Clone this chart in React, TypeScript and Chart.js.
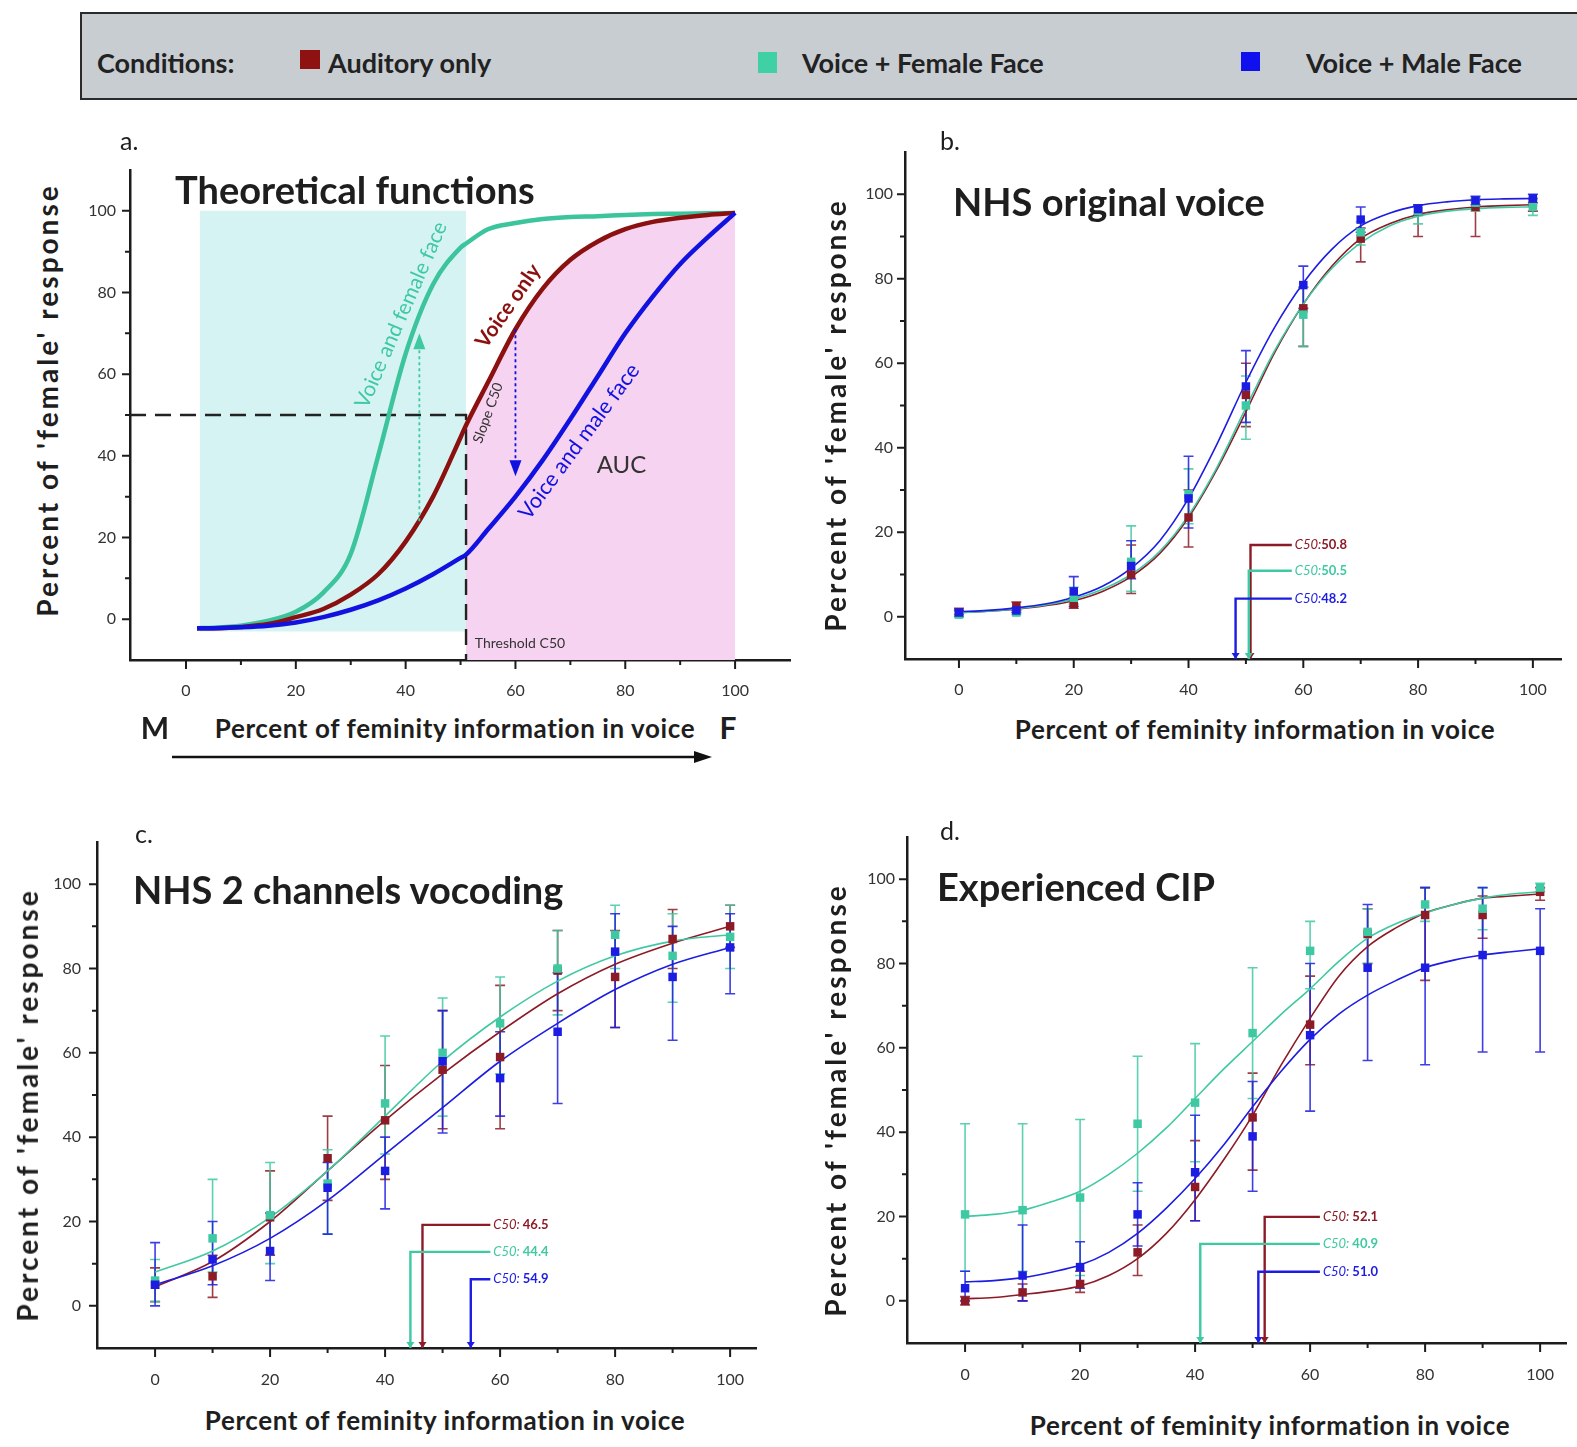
import React, { useEffect, useRef } from "react";
import { Chart, registerables } from "chart.js";
Chart.register(...registerables);

const FONT = "Lato, 'Open Sans', sans-serif";
Chart.defaults.font.family = FONT;

// ---------- colours ----------
const RED = "#8c1b26";
const TEAL = "#3fc9a2";
const BLUE = "#1c1ce2";
const AXIS = "#1c1c1c";
const INK = "#1e1e1e";
const CYAN_FILL = "#d6f3f3";
const PINK_FILL = "#f6d3f0";

// ---------- shared axis values ----------
const X_LEVELS = [0, 10, 20, 30, 40, 50, 60, 70, 80, 90, 100];
const CURVE_X5 = [0, 5, 10, 15, 20, 25, 30, 35, 40, 45, 50, 55, 60, 65, 70, 75, 80, 85, 90, 95, 100];
const MAJOR_TICKS = [0, 20, 40, 60, 80, 100];
const MINOR_TICKS = [10, 30, 50, 70, 90];

// ---------- panel a : theoretical functions ----------
const THEORY_X = [2, 5, 10, 15, 20, 25, 30, 35, 40, 45, 50, 51, 55, 60, 65, 70, 75, 80, 85, 90, 95, 100];
const THEORY_FEMALE = [-2.2, -2.1, -1.6, -0.4, 1.8, 6.5, 16, 40, 65, 82, 91, 92, 95.5, 97, 98, 98.5, 98.7, 99, 99.2, 99.3, 99.4, 99.5];
const THEORY_VOICE = [-2.2, -2.2, -1.9, -1.2, 0.5, 2.5, 6, 11, 19, 30, 44.5, 47.5, 58, 71, 81, 88, 92.5, 95.5, 97.3, 98.3, 99, 99.5];
const THEORY_MALE = [-2.2, -2.2, -2.0, -1.6, -0.8, 0.5, 2.3, 4.6, 7.5, 11, 15, 15.8, 22, 30, 39, 49, 59.5, 70, 79, 87, 93.5, 99.5];
const THRESHOLD_X = 51;
const HALF_Y = 50;
const CYAN_BOX_X = [2.5, 51];
const CYAN_BOX_Y = [-3, 100];
const ARROW_FEMALE = { x: 42.5, from: 24, to: 70 };
const ARROW_MALE = { x: 60, from: 71, to: 35 };

// ---------- panel b : NHS original voice ----------
const B_RED = [1, 2.5, 3, 10, 23.5, 52.5, 73, 89.5, 96, 97, 98];
const B_TEAL = [0.5, 1, 4.5, 13, 29, 50, 71.5, 91, 96, 98, 97];
const B_BLUE = [1, 1.5, 6, 12, 28, 54.5, 78.5, 94, 96.5, 98.5, 99];
const B_RED_LO = [0, 1.5, 2, 5.5, 16.5, 45, 64, 84, 90, 90, 96];
const B_RED_HI = [2, 3.5, 4.5, 17, 30, 60, 78, 92, 97.5, 98.5, 99];
const B_TEAL_LO = [0, 0.5, 3, 6, 22, 42, 64, 88, 93, 96, 95];
const B_TEAL_HI = [1.5, 2, 7, 21.5, 35, 57, 78, 93.5, 97.5, 99, 99];
const B_BLUE_LO = [0.5, 1, 2.5, 9, 21, 46, 73, 91, 95, 97.5, 98];
const B_BLUE_HI = [1.5, 2, 9.5, 18, 38, 63, 83, 97, 97.5, 99.5, 100];
const B_RED_FIT = [1.0, 1.3, 1.8, 2.6, 3.8, 6, 9.5, 15, 23.5, 35, 48.5, 62.5, 74, 83, 89.5, 93, 95.2, 96.3, 97, 97.3, 97.5];
const B_TEAL_FIT = [1.0, 1.3, 1.9, 2.8, 4.2, 6.5, 10, 15.5, 24, 35.5, 49.5, 63, 74, 82.5, 88.5, 92.5, 94.8, 96, 96.6, 96.9, 97.0];
const B_BLUE_FIT = [1.2, 1.5, 2.1, 3.0, 4.6, 7.2, 11.5, 18, 28, 41, 55.5, 68.5, 79, 87, 92.5, 95.5, 97.3, 98.2, 98.7, 98.9, 99.0];
const B_C50 = [50.8, 50.5, 48.2];
const B_C50_ELBOW = [17, 10.9, 4.3];

// ---------- panel c : NHS 2 channels vocoding ----------
const C_RED = [5, 7, 21, 35, 44, 56, 59, 79.5, 78, 87, 90];
const C_TEAL = [6, 16, 21.5, 29, 48, 60, 67, 80, 88, 83, 87.5];
const C_BLUE = [5, 11, 13, 28, 32, 58, 54, 65, 84, 78, 85];
const C_RED_LO = [1, 2, 12, 25, 30, 42, 42, 70, 66, 80, 85];
const C_RED_HI = [9, 12, 32, 45, 57, 70, 76, 89, 89, 94, 95];
const C_TEAL_LO = [1, 8, 10, 17, 36, 45, 55, 69, 80, 72, 80];
const C_TEAL_HI = [11, 30, 34, 37, 64, 73, 78, 89, 95, 93, 95];
const C_BLUE_LO = [0, 5, 6, 17, 23, 41, 45, 48, 66, 63, 74];
const C_BLUE_HI = [15, 20, 22, 34, 40, 70, 65, 79, 93, 90, 93];
const C_RED_FIT = [4.5, 10.5, 20, 32, 44, 55, 65, 74, 81, 86, 90];
const C_TEAL_FIT = [8, 13, 21, 32, 45, 58, 68.5, 77, 83, 86.5, 88];
const C_BLUE_FIT = [5, 9.5, 16, 25, 36, 47, 58, 67, 75, 81, 85];
const C_C50 = [46.5, 44.4, 54.9];
const C_C50_ELBOW = [19.2, 12.8, 6.3];

// ---------- panel d : Experienced CIP ----------
const D_RED = [0, 2, 4, 11.5, 27, 43.5, 65.5, 87, 91.5, 91.5, 97];
const D_TEAL = [20.5, 21.5, 24.5, 42, 47, 63.5, 83, 87.5, 94, 93, 98];
const D_BLUE = [3, 6, 8, 20.5, 30.5, 39, 63, 79, 79, 82, 83];
const D_RED_LO = [-1, 0, 2, 6, 19, 31, 56, 80, 76, 86, 95];
const D_RED_HI = [1, 4, 7, 18, 38, 54, 77, 93, 98, 96, 98];
const D_TEAL_LO = [7, 7, 6, 26, 33, 48, 74, 80, 90, 88, 97];
const D_TEAL_HI = [42, 42, 43, 58, 61, 79, 90, 93, 98, 98, 99];
const D_BLUE_LO = [0, 0, 3, 13, 19, 26, 45, 57, 56, 59, 59];
const D_BLUE_HI = [7, 18, 14, 28, 44, 52, 80, 94, 98, 98, 93];
const D_RED_FIT = [0.5, 0.8, 1.5, 2.3, 3.5, 6, 10, 16, 24, 33.5, 44, 56, 67, 77, 84, 88.5, 92, 94, 95.5, 96, 96.5];
const D_TEAL_FIT = [20, 20.5, 21.5, 23.5, 26, 30, 35, 41, 48, 55, 61.5, 68, 74, 80.5, 86, 89.5, 92, 94, 95.5, 96.5, 97];
const D_BLUE_FIT = [4.5, 4.8, 5.5, 6.8, 8.5, 11.5, 16, 22, 29, 37, 46, 54.5, 62, 68, 72.5, 76, 79, 80.8, 82, 82.8, 83.5];
const D_C50 = [52.1, 40.9, 51.0];
const D_C50_ELBOW = [19.9, 13.5, 6.9];

// ---------- helpers ----------
const pts = (xs: number[], ys: number[]) => xs.map((x, i) => ({ x, y: ys[i] }));

const PADL = 62, PADT = 20, PADR = 26, PADB = 46, YW = 50, XH = 40;

function scaleOpts(min: number, max: number, isX: boolean, pad: number) {
  return {
    type: "linear",
    min,
    max,
    grid: { display: false, drawTicks: false },
    border: { display: true, color: AXIS, width: 2.5 },
    ticks: { font: { size: 16 }, color: "#333", padding: pad, autoSkip: false, maxRotation: 0 },
    afterBuildTicks: (s: any) => {
      s.ticks = MAJOR_TICKS.map((v) => ({ value: v }));
    },
    afterFit: (s: any) => {
      if (isX) {
        s.height = XH;
        s.paddingLeft = 0;
        s.paddingRight = 0;
      } else {
        s.width = YW;
        s.paddingTop = 0;
        s.paddingBottom = 0;
      }
    },
  };
}

const ticksPlugin = {
  id: "minorMajorTicks",
  afterDraw(chart: any) {
    const { ctx, chartArea: a } = chart;
    const xs = chart.scales.x, ys = chart.scales.y;
    ctx.save();
    ctx.strokeStyle = AXIS;
    ctx.lineWidth = 2;
    ctx.beginPath();
    MAJOR_TICKS.forEach((v) => {
      const px = xs.getPixelForValue(v);
      ctx.moveTo(px, a.bottom); ctx.lineTo(px, a.bottom + 9);
      const py = ys.getPixelForValue(v);
      ctx.moveTo(a.left, py); ctx.lineTo(a.left - 8, py);
    });
    MINOR_TICKS.forEach((v) => {
      const px = xs.getPixelForValue(v);
      ctx.moveTo(px, a.bottom); ctx.lineTo(px, a.bottom + 5);
      const py = ys.getPixelForValue(v);
      ctx.moveTo(a.left, py); ctx.lineTo(a.left - 5, py);
    });
    ctx.stroke();
    ctx.restore();
  },
};

function errorBarsPlugin(series: { lo: number[]; hi: number[]; color: string }[]) {
  return {
    id: "errorBars",
    beforeDatasetsDraw(chart: any) {
      const { ctx } = chart;
      const xs = chart.scales.x, ys = chart.scales.y;
      ctx.save();
      ctx.lineWidth = 1.6;
      series.forEach((s) => {
        ctx.strokeStyle = s.color;
        ctx.globalAlpha = 0.85;
        X_LEVELS.forEach((xv, i) => {
          const px = xs.getPixelForValue(xv);
          const p1 = ys.getPixelForValue(s.lo[i]);
          const p2 = ys.getPixelForValue(s.hi[i]);
          ctx.beginPath();
          ctx.moveTo(px, p1); ctx.lineTo(px, p2);
          ctx.moveTo(px - 5, p1); ctx.lineTo(px + 5, p1);
          ctx.moveTo(px - 5, p2); ctx.lineTo(px + 5, p2);
          ctx.stroke();
        });
      });
      ctx.restore();
    },
  };
}

function c50Plugin(c50: number[], elbows: number[], endX: number, prefix: string, colors: string[]) {
  return {
    id: "c50Marks",
    afterDatasetsDraw(chart: any) {
      const { ctx } = chart;
      const xs = chart.scales.x, ys = chart.scales.y;
      const yBase = ys.getPixelForValue(ys.min);
      const ex = xs.getPixelForValue(endX);
      ctx.save();
      c50.forEach((v, i) => {
        const px = xs.getPixelForValue(v);
        const py = ys.getPixelForValue(elbows[i]);
        ctx.strokeStyle = colors[i];
        ctx.fillStyle = colors[i];
        ctx.lineWidth = 2.4;
        ctx.beginPath();
        ctx.moveTo(px, yBase); ctx.lineTo(px, py); ctx.lineTo(ex, py);
        ctx.stroke();
        ctx.beginPath();
        ctx.moveTo(px - 4, yBase - 6); ctx.lineTo(px + 4, yBase - 6); ctx.lineTo(px, yBase);
        ctx.closePath(); ctx.fill();
        ctx.textBaseline = "middle";
        ctx.textAlign = "left";
        ctx.font = `italic 13px ${FONT}`;
        ctx.fillText(prefix, ex + 3, py);
        const w = ctx.measureText(prefix).width;
        ctx.font = `bold 13px ${FONT}`;
        ctx.fillText(v.toFixed(1), ex + 3 + w, py);
      });
      ctx.restore();
    },
  };
}

const THEORY_LABELS = [
  { text: "Voice and female face", x: 39.2, y: 74.5, rot: -66.5, color: TEAL, font: `21px ${FONT}`, align: "center" },
  { text: "Voice only", x: 58.7, y: 76.7, rot: -55, color: "#8b1010", font: `bold 21px ${FONT}`, align: "center" },
  { text: "Slope C50", x: 55, y: 50.5, rot: -70, color: "#333", font: `14px ${FONT}`, align: "center" },
  { text: "Voice and male face", x: 71.6, y: 43.5, rot: -53.5, color: "#1010e0", font: `21.5px ${FONT}`, align: "center" },
  { text: "AUC", x: 79.3, y: 37.7, rot: 0, color: "#333", font: `24px ${FONT}`, align: "center" },
  { text: "Threshold C50", x: 52.6, y: -6, rot: 0, color: "#333", font: `14px ${FONT}`, align: "left" },
];

const theoryPlugin = {
  id: "theoryAnnotations",
  afterDatasetsDraw(chart: any) {
    const { ctx } = chart;
    const xs = chart.scales.x, ys = chart.scales.y;
    ctx.save();
    [
      { a: ARROW_FEMALE, c: TEAL },
      { a: ARROW_MALE, c: "#1010e0" },
    ].forEach(({ a, c }) => {
      const px = xs.getPixelForValue(a.x);
      const p1 = ys.getPixelForValue(a.from);
      const p2 = ys.getPixelForValue(a.to);
      const dir = p2 < p1 ? -1 : 1;
      ctx.strokeStyle = c;
      ctx.fillStyle = c;
      ctx.lineWidth = 1.8;
      ctx.setLineDash([3, 3]);
      ctx.beginPath();
      ctx.moveTo(px, p1); ctx.lineTo(px, p2 - dir * 10);
      ctx.stroke();
      ctx.setLineDash([]);
      ctx.beginPath();
      ctx.moveTo(px, p2); ctx.lineTo(px - 6, p2 - dir * 16); ctx.lineTo(px + 6, p2 - dir * 16);
      ctx.closePath(); ctx.fill();
    });
    THEORY_LABELS.forEach((l) => {
      ctx.save();
      ctx.translate(xs.getPixelForValue(l.x), ys.getPixelForValue(l.y));
      ctx.rotate((l.rot * Math.PI) / 180);
      ctx.font = l.font;
      ctx.fillStyle = l.color;
      ctx.textAlign = l.align;
      ctx.textBaseline = "middle";
      ctx.fillText(l.text, 0, 0);
      ctx.restore();
    });
    ctx.restore();
  },
};

type Panel = {
  L: number; R: number; T: number; B: number;
  xMin: number; xMax: number; yMin: number; yMax: number;
  xPad: number; yPad: number;
  datasets: any[];
  plugins: any[];
};

function fitPanel(
  geom: { L: number; R: number; T: number; B: number; xMin: number; xMax: number; xPad: number; yPad: number },
  curveX: number[],
  fits: number[][],
  means: number[][],
  los: number[][],
  his: number[][],
  c50: number[],
  elbows: number[],
  endX: number,
  prefix: string
): Panel {
  const colors = [RED, TEAL, BLUE];
  const orders = [3, 2, 1];
  const datasets: any[] = [];
  fits.forEach((f, i) => {
    datasets.push({
      type: "line",
      data: pts(curveX, f),
      borderColor: colors[i],
      borderWidth: 1.6,
      pointRadius: 0,
      cubicInterpolationMode: "monotone",
      fill: false,
      order: 10 + orders[i],
    });
  });
  means.forEach((m, i) => {
    datasets.push({
      type: "line",
      data: pts(X_LEVELS, m),
      showLine: false,
      pointStyle: "rect",
      pointRadius: 6,
      pointBackgroundColor: colors[i],
      pointBorderColor: colors[i],
      pointBorderWidth: 0,
      borderColor: colors[i],
      order: orders[i],
    });
  });
  return {
    ...geom,
    yMin: -10,
    yMax: 110,
    datasets,
    plugins: [
      ticksPlugin,
      errorBarsPlugin(los.map((lo, i) => ({ lo, hi: his[i], color: colors[i] }))),
      c50Plugin(c50, elbows, endX, prefix, colors),
    ],
  };
}

const PANEL_A: Panel = {
  L: 130, R: 790, T: 170, B: 660, xMin: -10.2, xMax: 110, yMin: -10, yMax: 110, xPad: 21, yPad: 14,
  datasets: [
    {
      type: "line",
      data: pts(CYAN_BOX_X, [CYAN_BOX_Y[1], CYAN_BOX_Y[1]]),
      borderWidth: 0,
      pointRadius: 0,
      fill: { value: CYAN_BOX_Y[0] },
      backgroundColor: CYAN_FILL,
      order: 20,
    },
    {
      type: "line",
      data: pts(THEORY_X, THEORY_VOICE).filter((p) => p.x >= THRESHOLD_X),
      borderWidth: 0,
      pointRadius: 0,
      cubicInterpolationMode: "monotone",
      fill: { value: -10 },
      backgroundColor: PINK_FILL,
      order: 19,
    },
    {
      type: "line",
      data: [
        { x: -10.2, y: HALF_Y },
        { x: THRESHOLD_X, y: HALF_Y },
        { x: THRESHOLD_X, y: -10 },
      ],
      borderColor: "#222",
      borderWidth: 2.4,
      borderDash: [16, 9],
      pointRadius: 0,
      fill: false,
      order: 10,
    },
    {
      type: "line",
      data: pts(THEORY_X, THEORY_FEMALE),
      borderColor: "#3cc49c",
      borderWidth: 4.5,
      pointRadius: 0,
      cubicInterpolationMode: "monotone",
      fill: false,
      order: 3,
    },
    {
      type: "line",
      data: pts(THEORY_X, THEORY_VOICE),
      borderColor: "#8b1010",
      borderWidth: 4.5,
      pointRadius: 0,
      cubicInterpolationMode: "monotone",
      fill: false,
      order: 2,
    },
    {
      type: "line",
      data: pts(THEORY_X, THEORY_MALE),
      borderColor: "#1212e0",
      borderWidth: 4.5,
      pointRadius: 0,
      cubicInterpolationMode: "monotone",
      fill: false,
      order: 1,
    },
  ],
  plugins: [ticksPlugin, theoryPlugin],
};

const PANEL_B = fitPanel(
  { L: 905, R: 1561, T: 152, B: 659, xMin: -9.4, xMax: 104.9, xPad: 21, yPad: 12 },
  CURVE_X5,
  [B_RED_FIT, B_TEAL_FIT, B_BLUE_FIT],
  [B_RED, B_TEAL, B_BLUE],
  [B_RED_LO, B_TEAL_LO, B_BLUE_LO],
  [B_RED_HI, B_TEAL_HI, B_BLUE_HI],
  B_C50, B_C50_ELBOW, 58, "C50:"
);

const PANEL_C = fitPanel(
  { L: 97, R: 756, T: 842, B: 1348, xMin: -10.1, xMax: 104.5, xPad: 22, yPad: 16 },
  X_LEVELS,
  [C_RED_FIT, C_TEAL_FIT, C_BLUE_FIT],
  [C_RED, C_TEAL, C_BLUE],
  [C_RED_LO, C_TEAL_LO, C_BLUE_LO],
  [C_RED_HI, C_TEAL_HI, C_BLUE_HI],
  C_C50, C_C50_ELBOW, 58.3, "C50: "
);

const PANEL_D = fitPanel(
  { L: 907, R: 1566, T: 837, B: 1343, xMin: -10.1, xMax: 104.5, xPad: 22, yPad: 12 },
  CURVE_X5,
  [D_RED_FIT, D_TEAL_FIT, D_BLUE_FIT],
  [D_RED, D_TEAL, D_BLUE],
  [D_RED_LO, D_TEAL_LO, D_BLUE_LO],
  [D_RED_HI, D_TEAL_HI, D_BLUE_HI],
  D_C50, D_C50_ELBOW, 61.7, "C50: "
);

function PanelChart({ p }: { p: Panel }) {
  const ref = useRef<HTMLCanvasElement>(null);
  const left = p.L - PADL;
  const top = p.T - PADT;
  const w = p.R - p.L + PADL + PADR;
  const h = p.B - p.T + PADT + PADB;
  useEffect(() => {
    const chart = new Chart(ref.current as HTMLCanvasElement, {
      type: "line",
      data: { datasets: p.datasets },
      options: {
        animation: false,
        responsive: false,
        events: [],
        layout: { padding: { left: PADL - YW, top: PADT, right: PADR, bottom: PADB - XH } },
        plugins: { legend: { display: false }, tooltip: { enabled: false } },
        scales: {
          x: scaleOpts(p.xMin, p.xMax, true, p.xPad),
          y: scaleOpts(p.yMin, p.yMax, false, p.yPad),
        },
      } as any,
      plugins: p.plugins,
    } as any);
    return () => chart.destroy();
  }, []);
  return (
    <canvas
      ref={ref}
      width={w}
      height={h}
      style={{ position: "absolute", left, top, width: w, height: h }}
    />
  );
}

function Txt({ x, y, a = "left", r = 0, s, children }: any) {
  const tx = a === "center" ? "-50%" : a === "right" ? "-100%" : "0";
  return (
    <div
      style={{
        position: "absolute",
        left: x,
        top: y,
        transform: `translate(${tx},-50%) rotate(${r}deg)`,
        whiteSpace: "nowrap",
        lineHeight: 1.15,
        fontFamily: FONT,
        color: INK,
        ...s,
      }}
    >
      {children}
    </div>
  );
}

const TITLE = { fontSize: 38, fontWeight: 700 };
const LETTER = { fontSize: 25 };
const YTITLE = { fontSize: 28, fontWeight: 700, letterSpacing: 3 };
const XTITLE = { fontSize: 26, fontWeight: 700, letterSpacing: 0.6 };
const LEG = { fontSize: 27, fontWeight: 700, color: "#222" };
const YT = "Percent of 'female' response";
const XT = "Percent of feminity information in voice";

export default function App() {
  return (
    <div
      style={{
        position: "fixed",
        left: 0,
        top: 0,
        width: 1577,
        height: 1447,
        overflow: "hidden",
        background: "#fff",
        fontFamily: FONT,
      }}
    >
      {/* legend bar */}
      <div
        style={{
          position: "absolute",
          left: 80,
          top: 12,
          width: 1560,
          height: 88,
          background: "#c8cdd2",
          border: "2.5px solid #2a2a2a",
          boxSizing: "border-box",
        }}
      />
      <Txt x={97} y={63} s={LEG}>Conditions:</Txt>
      <div style={{ position: "absolute", left: 300, top: 50, width: 20, height: 19, background: "#8e1212" }} />
      <Txt x={328} y={63} s={LEG}>Auditory only</Txt>
      <div style={{ position: "absolute", left: 758, top: 52, width: 19, height: 21, background: "#3fd0a4" }} />
      <Txt x={802} y={63} s={LEG}>Voice + Female Face</Txt>
      <div style={{ position: "absolute", left: 1241, top: 52, width: 19, height: 19, background: "#1010ee" }} />
      <Txt x={1306} y={63} s={LEG}>Voice + Male Face</Txt>

      <PanelChart p={PANEL_A} />
      <PanelChart p={PANEL_B} />
      <PanelChart p={PANEL_C} />
      <PanelChart p={PANEL_D} />

      {/* panel letters */}
      <Txt x={120} y={140} s={LETTER}>a.</Txt>
      <Txt x={940} y={140} s={LETTER}>b.</Txt>
      <Txt x={135} y={833} s={LETTER}>c.</Txt>
      <Txt x={940} y={830} s={LETTER}>d.</Txt>

      {/* panel titles */}
      <Txt x={175} y={190} s={TITLE}>Theoretical functions</Txt>
      <Txt x={953} y={202} s={TITLE}>NHS original voice</Txt>
      <Txt x={133} y={890} s={TITLE}>NHS 2 channels vocoding</Txt>
      <Txt x={937} y={887} s={TITLE}>Experienced CIP</Txt>

      {/* y titles */}
      <Txt x={47} y={400} a="center" r={-90} s={YTITLE}>{YT}</Txt>
      <Txt x={835} y={415} a="center" r={-90} s={YTITLE}>{YT}</Txt>
      <Txt x={27} y={1105} a="center" r={-90} s={YTITLE}>{YT}</Txt>
      <Txt x={835} y={1100} a="center" r={-90} s={YTITLE}>{YT}</Txt>

      {/* x titles */}
      <Txt x={455} y={729} a="center" s={XTITLE}>{XT}</Txt>
      <Txt x={1255} y={730} a="center" s={XTITLE}>{XT}</Txt>
      <Txt x={445} y={1421} a="center" s={XTITLE}>{XT}</Txt>
      <Txt x={1270} y={1426} a="center" s={XTITLE}>{XT}</Txt>

      {/* M / F and arrow in panel a */}
      <Txt x={155} y={727} a="center" s={{ fontSize: 30, fontWeight: 700 }}>M</Txt>
      <Txt x={728} y={727} a="center" s={{ fontSize: 30, fontWeight: 700 }}>F</Txt>
      <svg style={{ position: "absolute", left: 160, top: 745, width: 570, height: 24 }} width={570} height={24}>
        <line x1={12} y1={12} x2={540} y2={12} stroke="#111" strokeWidth={2.5} />
        <polygon points="552,12 534,6 534,18" fill="#111" />
      </svg>
    </div>
  );
}
